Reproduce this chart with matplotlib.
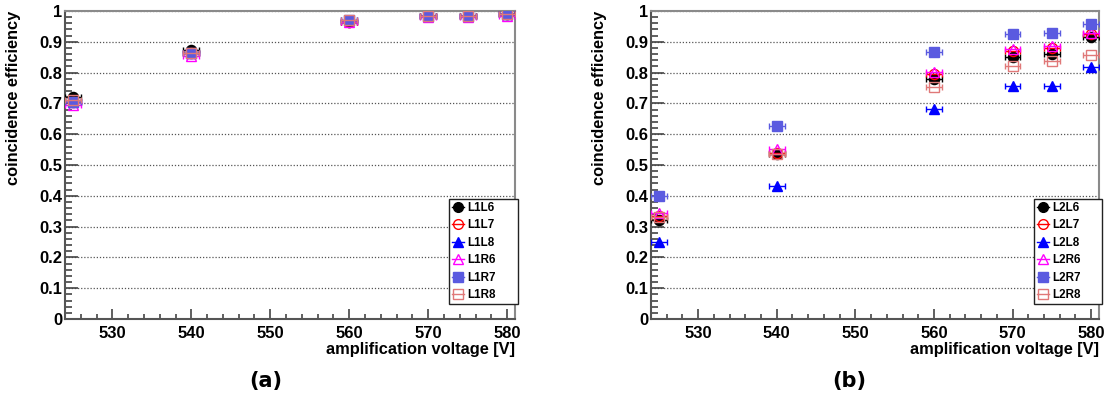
import matplotlib
matplotlib.use("Agg")
import matplotlib.pyplot as plt
from matplotlib.lines import Line2D
from matplotlib.ticker import MultipleLocator, FormatStrFormatter, FuncFormatter

# amplification voltages [V]
voltage = [525, 540, 560, 570, 575, 580]
voltage_err = 1.0

# layer 1 coincidence efficiencies
L1L6 = [0.720, 0.875, 0.965, 0.985, 0.985, 0.990]
L1L7 = [0.705, 0.865, 0.965, 0.985, 0.985, 0.990]
L1L8 = [0.705, 0.865, 0.970, 0.985, 0.985, 0.990]
L1R6 = [0.695, 0.855, 0.965, 0.980, 0.980, 0.985]
L1R7 = [0.705, 0.865, 0.970, 0.985, 0.985, 0.990]
L1R8 = [0.710, 0.865, 0.970, 0.985, 0.985, 0.990]

# layer 2 coincidence efficiencies
L2L6 = [0.320, 0.537, 0.780, 0.850, 0.862, 0.917]
L2L7 = [0.335, 0.540, 0.795, 0.870, 0.880, 0.925]
L2L8 = [0.249, 0.432, 0.682, 0.756, 0.758, 0.817]
L2R6 = [0.343, 0.553, 0.803, 0.877, 0.887, 0.930]
L2R7 = [0.400, 0.627, 0.866, 0.924, 0.927, 0.958]
L2R8 = [0.330, 0.535, 0.752, 0.821, 0.838, 0.858]

layer1 = {"L1L6": L1L6, "L1L7": L1L7, "L1L8": L1L8,
          "L1R6": L1R6, "L1R7": L1R7, "L1R8": L1R8}
layer2 = {"L2L6": L2L6, "L2L7": L2L7, "L2L8": L2L8,
          "L2R6": L2R6, "L2R7": L2R7, "L2R8": L2R8}

# marker style per pair suffix: (marker, colour, filled)
styles = {
    "L6": ("o", "#000000", True),
    "L7": ("o", "#ff0000", False),
    "L8": ("^", "#0000ff", True),
    "R6": ("^", "#ff00ff", False),
    "R7": ("s", "#5a5ae0", True),
    "R8": ("s", "#e07878", False),
}

TICK_FONT = "Liberation Sans"
W, H = 1105, 403
fig = plt.figure(figsize=(W / 100, H / 100), dpi=100)


def px_axes(x0, x1, y0, y1):
    return fig.add_axes([x0 / W, 1 - y1 / H, (x1 - x0) / W, (y1 - y0) / H])


def draw_panel(ax, series, legend_box):
    handles = []
    for i, (name, vals) in enumerate(series.items()):
        marker, color, filled = styles[name[2:]]
        mfc = color if filled else "none"
        ax.errorbar(voltage, vals, xerr=voltage_err, fmt=marker, color=color,
                    mfc=mfc, mec=color, ms=7.3, mew=1.0, elinewidth=1.0,
                    capsize=2.2, capthick=1.0, zorder=3 + i)
        handles.append(Line2D([], [], marker=marker, color=color, mfc=mfc,
                              mec=color, ms=7, mew=1.0, lw=1.0, label=name))

    ax.set_xlim(524, 581)
    ax.set_ylim(0, 1)
    ax.xaxis.set_major_locator(MultipleLocator(10))
    ax.xaxis.set_minor_locator(MultipleLocator(2))
    ax.yaxis.set_major_locator(MultipleLocator(0.1))
    ax.yaxis.set_minor_locator(MultipleLocator(0.02))
    ax.yaxis.set_major_formatter(FuncFormatter(lambda v, p: f"{v:g}"))
    ax.xaxis.set_major_formatter(FormatStrFormatter("%d"))

    ax.tick_params(axis="x", which="major", direction="in", length=7.2,
                   width=1.2, color="#444444", pad=5)
    ax.tick_params(axis="x", which="minor", direction="in", length=3.6,
                   width=1.2, color="#444444")
    ax.tick_params(axis="y", which="major", direction="in", length=9.4,
                   width=1.2, color="#444444", pad=2)
    ax.tick_params(axis="y", which="minor", direction="in", length=5,
                   width=1.2, color="#444444")
    for lab in ax.get_xticklabels() + ax.get_yticklabels():
        lab.set_fontfamily(TICK_FONT)
        lab.set_fontweight("bold")
        lab.set_fontsize(11.9)

    ax.grid(axis="y", which="major", color="#555555", lw=0.9,
            linestyle=(0, (1, 1.5)), zorder=0)
    ax.set_axisbelow(True)

    for side in ("left", "bottom"):
        ax.spines[side].set_color("#555555")
        ax.spines[side].set_linewidth(1.5)
    for side in ("top", "right"):
        ax.spines[side].set_color("#8a8a8a")
        ax.spines[side].set_linewidth(1.5)

    ax.set_xlabel("amplification voltage [V]", loc="right",
                  fontfamily=TICK_FONT, fontweight="bold", fontsize=11.8)
    ax.xaxis.set_label_coords(1.0, -0.075)
    ax.set_ylabel("coincidence efficiency", loc="top",
                  fontfamily=TICK_FONT, fontweight="bold", fontsize=11.8)
    ax.yaxis.set_label_coords(-0.098, 1.0)

    leg = ax.legend(handles=handles, loc="upper left",
                    bbox_to_anchor=legend_box, mode="expand",
                    prop={"family": TICK_FONT, "weight": "bold", "size": 8.4},
                    frameon=True, fancybox=False, framealpha=1,
                    edgecolor="#222222", borderpad=0.25, labelspacing=0.47,
                    handlelength=1.05, handletextpad=0.25, borderaxespad=0,
                    numpoints=1)
    leg.get_frame().set_linewidth(1.0)
    leg.set_zorder(20)


ax1 = px_axes(65, 515, 11, 319)
ax2 = px_axes(651, 1099, 11, 319)

draw_panel(ax1, layer1, (0.853, 0.045, 0.154, 0.345))
draw_panel(ax2, layer2, (0.855, 0.045, 0.152, 0.345))

fig.text(266 / W, 1 - 381 / H, "(a)", ha="center", va="center",
         fontfamily="DejaVu Sans", fontweight="bold", fontsize=15)
fig.text(849 / W, 1 - 381 / H, "(b)", ha="center", va="center",
         fontfamily="DejaVu Sans", fontweight="bold", fontsize=15)

fig.savefig("out.png", dpi=100)
